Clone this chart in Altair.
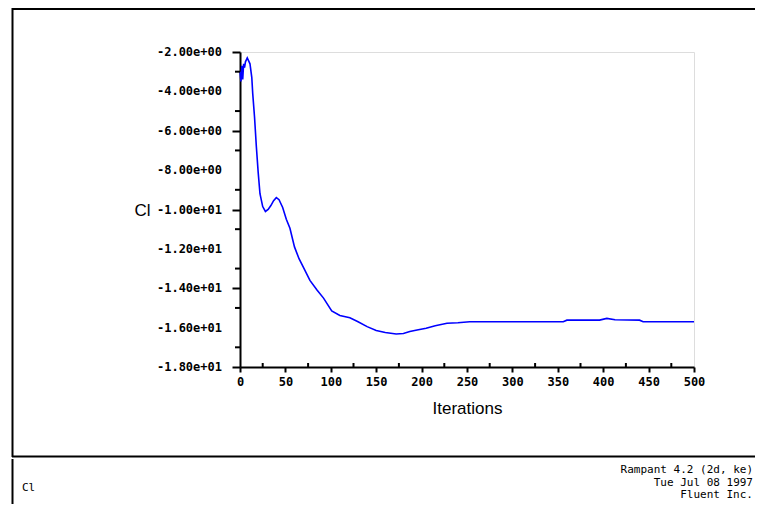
import altair as alt
import pandas as pd

# ---- data ----
iterations = [0, 1, 2, 3, 4, 5, 6, 8, 9, 11, 13, 14, 16, 18, 20, 22, 25, 28, 31, 34,
              37, 40, 43, 47, 51, 55, 60, 65, 70, 77, 85, 92, 101, 110, 121, 130,
              140, 150, 160, 172, 180, 187, 195, 205, 215, 228, 240, 253, 300, 356,
              360, 396, 404, 413, 440, 444, 500]
cl_values = [-3.0, -3.5, -2.7, -3.4, -2.6, -2.8, -2.5, -2.3, -2.4, -2.6, -3.3, -4.1,
             -5.3, -6.8, -8.1, -9.2, -9.85, -10.1, -10.0, -9.8, -9.55, -9.4, -9.5,
             -9.9, -10.5, -10.95, -11.9, -12.5, -12.95, -13.6, -14.1, -14.5, -15.15,
             -15.38, -15.5, -15.7, -15.95, -16.15, -16.25, -16.32, -16.3, -16.2,
             -16.12, -16.03, -15.9, -15.78, -15.75, -15.7, -15.7, -15.7, -15.62,
             -15.62, -15.53, -15.6, -15.62, -15.7, -15.7]

y_tick_values = [-2, -4, -6, -8, -10, -12, -14, -16, -18]
y_tick_labels = ["-2.00e+00", "-4.00e+00", "-6.00e+00", "-8.00e+00", "-1.00e+01",
                 "-1.20e+01", "-1.40e+01", "-1.60e+01", "-1.80e+01"]
y_minor_values = [-3, -5, -7, -9, -11, -13, -15, -17]
x_tick_values = [0, 50, 100, 150, 200, 250, 300, 350, 400, 450, 500]
x_minor_values = [25, 75, 125, 175, 225, 275, 325, 375, 425, 475]

y_title = "Cl"
x_title = "Iterations"
footer_left = "Cl"
footer_right = ["Rampant 4.2 (2d, ke)", "Tue Jul 08 1997", "Fluent Inc."]

# ---- chart ----
W, H = 454, 315
LABEL_FONT = "DejaVu Sans Mono"
TITLE_FONT = "Liberation Sans"

df = pd.DataFrame({"it": iterations, "cl": cl_values})
ylab = pd.DataFrame({"v": y_tick_values, "t": y_tick_labels})

xscale = alt.Scale(domain=[0, 500], nice=False, zero=False)
yscale = alt.Scale(domain=[-18, -2], nice=False, zero=False)

line = alt.Chart(df).mark_line(color="#0000ff", strokeWidth=1.6).encode(
    x=alt.X("it:Q", scale=xscale,
            axis=alt.Axis(values=x_tick_values, title=x_title, format="d",
                          grid=False, domainColor="black", domainWidth=2,
                          tickColor="black", tickWidth=2, tickSize=5,
                          labelFont=LABEL_FONT, labelFontSize=12, labelFontWeight="bold",
                          labelColor="black", labelPadding=13, labelBaseline="alphabetic",
                          labelFlush=False, labelOverlap=False,
                          titleFont=TITLE_FONT, titleFontSize=17, titleFontWeight="normal",
                          titleColor="black", titleBaseline="middle", titleY=41)),
    y=alt.Y("cl:Q", scale=yscale,
            axis=alt.Axis(values=y_tick_values, labels=False, title=y_title,
                          grid=False, domainColor="black", domainWidth=2,
                          tickColor="black", tickWidth=2, tickSize=8,
                          titleFont=TITLE_FONT, titleFontSize=17, titleFontWeight="normal",
                          titleColor="black", titleAngle=0, titleAlign="center",
                          titleBaseline="middle", titleX=-98, titleY=158)),
)

# y tick labels (scientific format as shown), placed through the y scale
ylabels = alt.Chart(ylab).mark_text(
    font=LABEL_FONT, fontSize=12, fontWeight="bold", align="right",
    baseline="middle", color="black"
).encode(y=alt.Y("v:Q", scale=yscale), x=alt.value(-18), text="t:N")

ymin = alt.Chart(pd.DataFrame({"v": y_minor_values})).mark_rule(
    color="black", strokeWidth=2).encode(
    y=alt.Y("v:Q", scale=yscale), x=alt.value(-5), x2=alt.value(0))

xmin = alt.Chart(pd.DataFrame({"v": x_minor_values})).mark_rule(
    color="black", strokeWidth=2).encode(
    x=alt.X("v:Q", scale=xscale), y=alt.value(H), y2=alt.value(H - 4))

one = pd.DataFrame({"a": [0]})

def hline(y, x1, x2, w=2):
    return alt.Chart(one).mark_rule(color="black", strokeWidth=w).encode(
        x=alt.value(x1), x2=alt.value(x2), y=alt.value(y))

def vline(x, y1, y2, w=2):
    return alt.Chart(one).mark_rule(color="black", strokeWidth=w).encode(
        y=alt.value(y1), y2=alt.value(y2), x=alt.value(x))

frame = [
    hline(-43, -228, 515),
    vline(-227.5, -44, 405),
    hline(404.5, -228, 515),
    vline(-227.5, 407, 455),
]

foot_l = alt.Chart(one).mark_text(
    font=LABEL_FONT, fontSize=11, align="left", baseline="alphabetic", color="black"
).encode(x=alt.value(-218), y=alt.value(439), text=alt.value(footer_left))

foot_r = alt.Chart(one).mark_text(
    font=LABEL_FONT, fontSize=11, align="right", baseline="alphabetic", color="black",
    lineHeight=12.5
).encode(x=alt.value(513), y=alt.value(421), text=alt.value(footer_right))

chart = alt.layer(line, ylabels, ymin, xmin, *frame, foot_l, foot_r).properties(
    width=W, height=H,
    padding={"left": 232, "top": 44, "right": 61, "bottom": 137},
    autosize=alt.AutoSizeParams(type="none"),
).configure_view(stroke=None).configure(background="white")

chart.save("out.html", embed_options={"renderer": "svg", "actions": False})
